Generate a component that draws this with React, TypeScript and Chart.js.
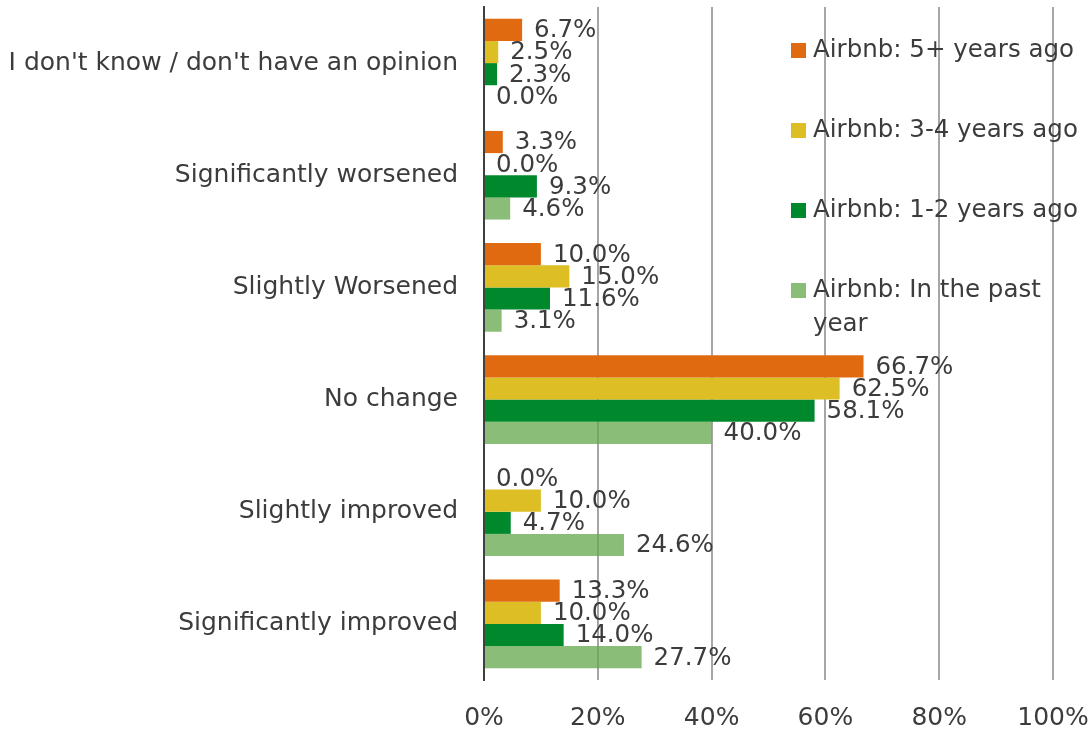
import React, { useEffect, useRef } from "react";
import { Chart, registerables } from "chart.js";

Chart.register(...registerables);

const categories = [
  "I don't know / don't have an opinion",
  "Significantly worsened",
  "Slightly Worsened",
  "No change",
  "Slightly improved",
  "Significantly improved",
];

const seriesNames = [
  "Airbnb: 5+ years ago",
  "Airbnb: 3-4 years ago",
  "Airbnb: 1-2 years ago",
  "Airbnb: In the past year",
];

const fiveplusYears = [6.7, 3.3, 10.0, 66.7, 0.0, 13.3];
const threeFourYears = [2.5, 0.0, 15.0, 62.5, 10.0, 10.0];
const oneTwoYears = [2.3, 9.3, 11.6, 58.1, 4.7, 14.0];
const pastYear = [0.0, 4.6, 3.1, 40.0, 24.6, 27.7];

const xTicks = [0, 20, 40, 60, 80, 100];

const colors = ["#E06A0F", "#DDBE25", "#00882D", "rgba(99,167,75,0.75)"];
const legendSwatch = ["#E06A0F", "#DDBE25", "#00882D", "#8ABD78"];

const FONT = "DejaVu Sans";
const TEXT = "#3C3C3C";
const SIZE = 25;

const dataLabelPlugin = {
  id: "dataLabels",
  afterDatasetsDraw(chart: any) {
    const ctx = chart.ctx;
    ctx.save();
    ctx.font = `${SIZE - 0.5}px "${FONT}"`;
    ctx.fillStyle = TEXT;
    ctx.textAlign = "left";
    ctx.textBaseline = "middle";
    chart.data.datasets.forEach((ds: any, di: number) => {
      const meta = chart.getDatasetMeta(di);
      meta.data.forEach((bar: any, i: number) => {
        const v = ds.data[i];
        ctx.fillText(v.toFixed(1) + "%", bar.x + 12, bar.y + 1);
      });
    });
    ctx.restore();
  },
};

const legendPlugin = {
  id: "customLegend",
  afterDraw(chart: any) {
    const ctx = chart.ctx;
    ctx.save();
    ctx.font = `${SIZE - 0.5}px "${FONT}"`;
    ctx.textAlign = "left";
    ctx.textBaseline = "middle";
    const lines = [
      [seriesNames[0]],
      [seriesNames[1]],
      [seriesNames[2]],
      ["Airbnb: In the past", "year"],
    ];
    lines.forEach((ls, i) => {
      const cy = 50 + i * 80;
      ctx.fillStyle = legendSwatch[i];
      ctx.fillRect(791, cy - 7, 15, 15);
      ctx.fillStyle = TEXT;
      ls.forEach((t, j) => ctx.fillText(t, 813, cy + 1 + j * 34));
    });
    ctx.restore();
  },
};

export default function App() {
  const ref = useRef<HTMLCanvasElement>(null);
  useEffect(() => {
    const data = [fiveplusYears, threeFourYears, oneTwoYears, pastYear];
    const chart = new Chart(ref.current as HTMLCanvasElement, {
      type: "bar",
      data: {
        labels: categories,
        datasets: data.map((d, i) => ({
          label: seriesNames[i],
          data: d,
          backgroundColor: colors[i],
          borderWidth: 0,
          barPercentage: 1,
          categoryPercentage: 0.79,
        })),
      },
      options: {
        indexAxis: "y",
        responsive: false,
        animation: false,
        layout: { padding: { left: 0, top: 7, right: 39, bottom: 0 } },
        plugins: {
          legend: { display: false },
          tooltip: { enabled: false },
        },
        scales: {
          x: {
            min: 0,
            max: 100,
            afterBuildTicks: (s: any) => {
              s.ticks = xTicks.map((v) => ({ value: v }));
            },
            ticks: {
              callback: (v: any) => v + "%",
              font: { family: FONT, size: SIZE },
              color: TEXT,
              padding: 23,
              maxRotation: 0,
            },
            grid: {
              color: (c: any) => (c.tick && c.tick.value === 0 ? "rgba(0,0,0,0)" : "#A6A6A6"),
              lineWidth: 2,
              drawTicks: false,
            },
            border: { display: false },
            afterFit: (s: any) => {
              s.height = 52;
              s.paddingLeft = 0;
              s.paddingRight = 0;
              s.paddingTop = 0;
              s.paddingBottom = 0;
            },
          },
          y: {
            z: 1,
            ticks: {
              font: { family: FONT, size: SIZE },
              color: TEXT,
              padding: 26,
            },
            grid: { display: false, drawTicks: false },
            border: { display: true, color: "#404040", width: 2 },
            afterFit: (s: any) => {
              s.width = 484;
              s.paddingLeft = 0;
              s.paddingRight = 0;
              s.paddingTop = 0;
              s.paddingBottom = 0;
            },
          },
        },
      } as any,
      plugins: [dataLabelPlugin, legendPlugin],
    });
    return () => chart.destroy();
  }, []);
  return (
    <div style={{ position: "absolute", left: 0, top: 0, width: 1092, height: 732, background: "#fff" }}>
      <canvas ref={ref} width={1092} height={732} style={{ width: 1092, height: 732 }} />
    </div>
  );
}
